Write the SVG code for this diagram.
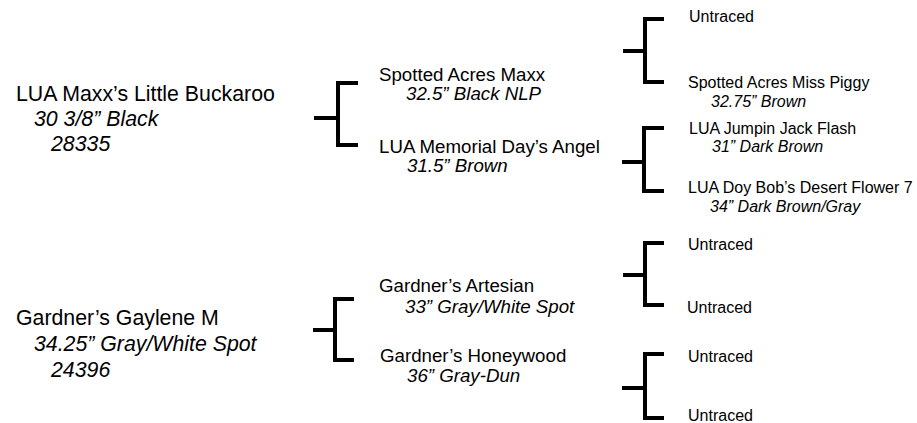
<svg xmlns="http://www.w3.org/2000/svg" width="917" height="423" viewBox="0 0 917 423">
<style>
text{font-family:"Liberation Sans",Arial,sans-serif;fill:#000}
.l{font-size:21.3px}
.m{font-size:18.7px}
.s{font-size:16px}
.i{font-style:italic}
.br{fill:none;stroke:#000;stroke-width:4;stroke-linejoin:miter;stroke-linecap:butt}
</style>
<rect width="917" height="423" fill="#fff"/>
<g id="connectors">
<path class="br" d="M314 118H338M358 83H338V145H358"/>
<path class="br" d="M313 330H335M354 299H335V360H354"/>
<path class="br" d="M623 51H645M664 19H645V82H664"/>
<path class="br" d="M622 162H644M664 128H644V191H664"/>
<path class="br" d="M623 275H645M664 243H645V305H664"/>
<path class="br" d="M622 388H645M664 354H645V418H664"/>
</g>
<g id="buckaroo">
<text class="l" x="16" y="101">LUA Maxx’s Little Buckaroo</text>
<text class="l i" x="34" y="126">30 3/8” Black</text>
<text class="l i" x="51" y="151">28335</text>
</g>
<g id="gaylene">
<text class="l" x="16" y="325">Gardner’s Gaylene M</text>
<text class="l i" x="34" y="351">34.25” Gray/White Spot</text>
<text class="l i" x="51" y="377">24396</text>
</g>
<g id="maxx">
<text class="m" x="379" y="81">Spotted Acres Maxx</text>
<text class="m i" x="406" y="100">32.5” Black NLP</text>
</g>
<g id="angel">
<text class="m" x="379" y="153">LUA Memorial Day’s Angel</text>
<text class="m i" x="407" y="172">31.5” Brown</text>
</g>
<g id="artesian">
<text class="m" x="379" y="292">Gardner’s Artesian</text>
<text class="m i" x="405" y="313">33” Gray/White Spot</text>
</g>
<g id="honeywood">
<text class="m" x="380" y="362">Gardner’s Honeywood</text>
<text class="m i" x="407" y="382">36” Gray-Dun</text>
</g>
<g id="untraced1"><text class="s" x="689" y="22">Untraced</text></g>
<g id="piggy">
<text class="s" x="688" y="88">Spotted Acres Miss Piggy</text>
<text class="s i" x="711" y="107">32.75” Brown</text>
</g>
<g id="jumpin">
<text class="s" x="689" y="134">LUA Jumpin Jack Flash</text>
<text class="s i" x="712" y="152">31” Dark Brown</text>
</g>
<g id="desertflower">
<text class="s" x="688" y="193">LUA Doy Bob’s Desert Flower 7</text>
<text class="s i" x="710" y="212">34” Dark Brown/Gray</text>
</g>
<g id="untraced2"><text class="s" x="688" y="250">Untraced</text></g>
<g id="untraced3"><text class="s" x="687" y="313">Untraced</text></g>
<g id="untraced4"><text class="s" x="688" y="362">Untraced</text></g>
<g id="untraced5"><text class="s" x="688" y="421">Untraced</text></g>
</svg>
